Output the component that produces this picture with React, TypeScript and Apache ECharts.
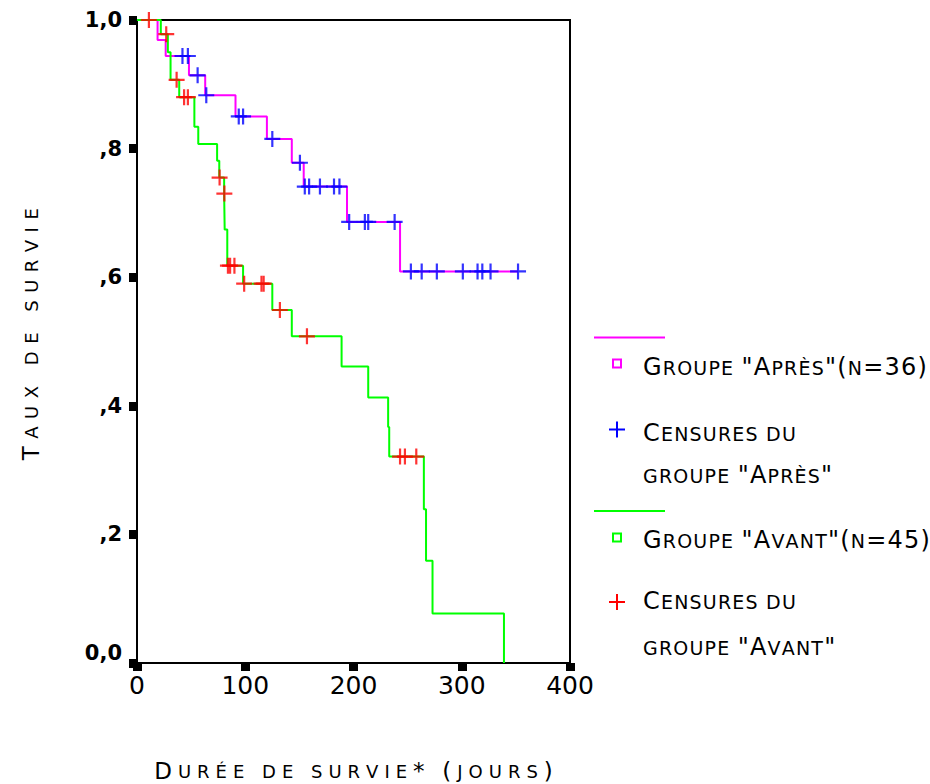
import React, { useEffect, useRef } from 'react';
import * as echarts from 'echarts';

// ---- Data (time in days, survival proportion) ----
// Groupe "Après" (n=36): Kaplan-Meier step points
const apresTimes = [0, 19, 26.5, 48, 63, 91, 120, 143, 154, 194, 243, 352];
const apresSurv = [1, 0.969, 0.944, 0.914, 0.883, 0.85, 0.815, 0.778, 0.741, 0.686, 0.609, 0.609];
// Censures du groupe "Après"
const apresCensTimes = [42, 47, 56, 64, 94, 98, 125, 150.5, 155, 159, 169, 182, 187, 196, 210.5, 213.6, 238, 253, 263, 277, 301, 314.6, 319, 326.6, 352];
const apresCensSurv = [0.944, 0.944, 0.914, 0.883, 0.85, 0.85, 0.815, 0.778, 0.741, 0.741, 0.741, 0.741, 0.741, 0.686, 0.686, 0.686, 0.686, 0.609, 0.609, 0.609, 0.609, 0.609, 0.609, 0.609, 0.609];

// Groupe "Avant" (n=45): Kaplan-Meier step points
const avantTimes = [0, 22, 28.5, 31, 39, 53, 56.6, 74, 76, 80.5, 81, 83.4, 98, 125, 143, 189, 213.6, 232, 233, 265, 267, 273, 339];
const avantSurv = [1, 0.978, 0.95, 0.907, 0.88, 0.834, 0.807, 0.781, 0.755, 0.73, 0.674, 0.618, 0.59, 0.549, 0.508, 0.461, 0.413, 0.367, 0.321, 0.239, 0.159, 0.077, 0];
// Censures du groupe "Avant"
const avantCensTimes = [11, 27, 36.6, 43.5, 47, 76.3, 80.7, 84, 86, 90, 99, 115, 117, 132, 157, 243, 247.5, 258];
const avantCensSurv = [1, 0.978, 0.907, 0.88, 0.88, 0.755, 0.73, 0.618, 0.618, 0.618, 0.59, 0.59, 0.59, 0.549, 0.508, 0.321, 0.321, 0.321];

// Tick labels
const xTickLabels = ['0', '100', '200', '300', '400'];
const yTickLabels = ['0,0', ',2', ',4', ',6', ',8', '1,0'];

// Texts
const yTitle = 'Taux de survie';
const xTitle = 'Durée de survie* (jours)';
const legendTexts = [
  'Groupe "Après"(n=36)',
  'Censures du',
  'groupe "Après"',
  'Groupe "Avant"(n=45)',
  'Censures du',
  'groupe "Avant"',
];

const FONT = 'DejaVu Sans';
const MAGENTA = '#ff00ff';
const GREEN = '#00ff00';
const BLUE = '#0000ff';
const RED = '#ff0000';
const CROSS = 'path://M0,8L16,8M8,0L8,16';

// Render text as small caps, one rich token per character (so letter spacing can be set)
function smallCaps(s: string): string {
  let out = '';
  for (const ch of s) {
    const lower = ch === ' ' || ch !== ch.toUpperCase();
    out += `{${lower ? 's' : 'b'}|${lower ? ch.toUpperCase() : ch}}`;
  }
  return out;
}

const zip = (a: number[], b: number[]) => a.map((v, i) => [v, b[i]]);

function legendRich() {
  const gap = 1.2;
  return {
    b: { fontSize: 24, fontFamily: FONT, fill: '#000', color: '#000', padding: [0, gap, 3, 0] },
    s: { fontSize: 19, fontFamily: FONT, fill: '#000', color: '#000', padding: [0, gap, 0, 0] },
  };
}

function titleRich(gap: number) {
  return {
    b: { fontSize: 23, fontFamily: FONT, color: '#000', lineHeight: 20, padding: [0, gap, 0, 0] },
    s: { fontSize: 18, fontFamily: FONT, color: '#000', lineHeight: 20, padding: [0, gap, 0, 0] },
  };
}

function legendText(text: string, x: number, y: number) {
  return {
    type: 'text',
    x,
    y,
    style: {
      text: smallCaps(text),
      rich: legendRich(),
      fill: '#000',
      align: 'left',
      textAlign: 'left',
      verticalAlign: 'middle',
      textVerticalAlign: 'middle',
    },
  };
}

function legendCross(cx: number, cy: number, color: string) {
  return [
    { type: 'line', shape: { x1: cx - 8, y1: cy, x2: cx + 8, y2: cy }, style: { stroke: color, lineWidth: 2 } },
    { type: 'line', shape: { x1: cx, y1: cy - 8, x2: cx, y2: cy + 8 }, style: { stroke: color, lineWidth: 2 } },
  ];
}

function buildOption() {
  return {
    animation: false,
    backgroundColor: '#ffffff',
    grid: {
      left: 137,
      top: 20,
      width: 433,
      height: 643,
      show: true,
      borderColor: '#000',
      borderWidth: 2,
      backgroundColor: 'transparent',
      containLabel: false,
      outerBoundsMode: 'none',
    },
    xAxis: {
      type: 'value',
      min: 0,
      max: 400,
      interval: 100,
      name: smallCaps(xTitle),
      nameLocation: 'middle',
      nameGap: 98,
      nameTextStyle: { rich: titleRich(6), padding: [0, 0, 0, 6] },
      axisLine: { show: true, onZero: false, lineStyle: { color: '#000', width: 2 } },
      axisTick: { show: true, length: 8, lineStyle: { color: '#000', width: 9 } },
      axisLabel: {
        color: '#000',
        fontSize: 25,
        fontFamily: FONT,
        margin: 10,
        formatter: (v: number) => xTickLabels[Math.round(v / 100)],
      },
      splitLine: { show: false },
    },
    yAxis: {
      type: 'value',
      min: 0,
      max: 1,
      interval: 0.2,
      name: smallCaps(yTitle),
      nameLocation: 'middle',
      nameRotate: 90,
      nameGap: 96,
      nameTextStyle: { rich: titleRich(7.5), padding: [0, 0, 0, 22] },
      axisLine: { show: true, onZero: false, lineStyle: { color: '#000', width: 2 } },
      axisTick: { show: true, length: 8, lineStyle: { color: '#000', width: 9 } },
      axisLabel: {
        color: '#000',
        fontSize: 21,
        fontWeight: 'bold',
        fontFamily: FONT,
        margin: 15,
        formatter: (v: number) => {
          const i = Math.round(v * 5);
          return i === 0 ? `{z|${yTickLabels[i]}}` : yTickLabels[i];
        },
        rich: {
          z: { fontSize: 21, fontWeight: 'bold', fontFamily: FONT, color: '#000', padding: [0, 0, 20, 0] },
        },
      },
      splitLine: { show: false },
    },
    series: [
      {
        name: 'Groupe "Après"(n=36)',
        type: 'line',
        step: 'end',
        symbol: 'none',
        clip: false,
        data: zip(apresTimes, apresSurv),
        lineStyle: { color: MAGENTA, width: 2 },
        itemStyle: { color: MAGENTA },
        z: 3,
      },
      {
        name: 'Groupe "Avant"(n=45)',
        type: 'line',
        step: 'end',
        symbol: 'none',
        clip: false,
        data: zip(avantTimes, avantSurv),
        lineStyle: { color: GREEN, width: 2 },
        itemStyle: { color: GREEN },
        z: 3,
      },
      {
        name: 'Censures du groupe "Après"',
        type: 'scatter',
        symbol: CROSS,
        symbolSize: 16,
        clip: false,
        data: zip(apresCensTimes, apresCensSurv),
        itemStyle: { color: BLUE, borderColor: BLUE, borderWidth: 2.2 },
        z: 4,
      },
      {
        name: 'Censures du groupe "Avant"',
        type: 'scatter',
        symbol: CROSS,
        symbolSize: 16,
        clip: false,
        data: zip(avantCensTimes, avantCensSurv),
        itemStyle: { color: RED, borderColor: RED, borderWidth: 2.2 },
        z: 5,
      },
    ],
    graphic: [
      { type: 'line', shape: { x1: 594, y1: 337.5, x2: 665, y2: 337.5 }, style: { stroke: MAGENTA, lineWidth: 2 } },
      { type: 'rect', shape: { x: 613, y: 359.5, width: 8, height: 8 }, style: { fill: 'none', stroke: MAGENTA, lineWidth: 2 } },
      legendText(legendTexts[0], 643, 368),
      ...legendCross(617, 429.5, BLUE),
      legendText(legendTexts[1], 643, 434),
      legendText(legendTexts[2], 643, 476),
      { type: 'line', shape: { x1: 594, y1: 511, x2: 665, y2: 511 }, style: { stroke: GREEN, lineWidth: 2 } },
      { type: 'rect', shape: { x: 613, y: 533.5, width: 8, height: 8 }, style: { fill: 'none', stroke: GREEN, lineWidth: 2 } },
      legendText(legendTexts[3], 643, 541),
      ...legendCross(617, 602, RED),
      legendText(legendTexts[4], 643, 602),
      legendText(legendTexts[5], 643, 648),
    ],
  };
}

export default function App() {
  const ref = useRef<HTMLDivElement>(null);
  useEffect(() => {
    if (!ref.current) return;
    const chart = echarts.init(ref.current, undefined, { renderer: 'svg' });
    chart.setOption(buildOption() as any);
    return () => chart.dispose();
  }, []);
  return (
    <div
      ref={ref}
      style={{ position: 'fixed', left: 0, top: 0, width: 930, height: 784, background: '#fff' }}
    />
  );
}
